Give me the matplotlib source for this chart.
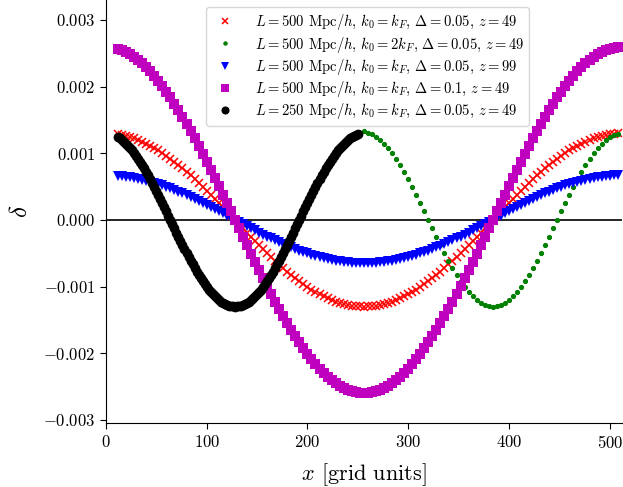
import numpy as np
import matplotlib
matplotlib.use("Agg")
import matplotlib.pyplot as plt
from matplotlib.ticker import FuncFormatter, MultipleLocator

plt.rcParams['font.family'] = 'serif'
plt.rcParams['font.serif'] = ['cmr10', 'DejaVu Serif']
plt.rcParams['mathtext.fontset'] = 'cm'
plt.rcParams['axes.unicode_minus'] = True

# ---------------- data (values in units of 1e-3) ----------------
x_grid = np.arange(12, 509, 4)      # grid positions for the L=500 runs
x_black = np.arange(12, 251, 2)     # grid positions for the L=250 run

red_vals = [1.286, 1.275, 1.261, 1.244, 1.224, 1.201, 1.175, 1.146, 1.115, 1.081, 1.044, 1.005, 0.963, 0.919, 0.873,
            0.825, 0.774, 0.722, 0.668, 0.613, 0.556, 0.497, 0.438, 0.377, 0.316, 0.254, 0.191, 0.127, 0.064,
            0.0,
            -0.064, -0.127, -0.191, -0.254, -0.316, -0.377, -0.438, -0.497, -0.556, -0.613, -0.668, -0.722, -0.774,
            -0.825, -0.873, -0.919, -0.963, -1.005, -1.044, -1.081, -1.115, -1.146, -1.175, -1.201, -1.224, -1.244,
            -1.261, -1.275, -1.286, -1.294, -1.298,
            -1.300,
            -1.298, -1.294, -1.286, -1.275, -1.261, -1.244, -1.224, -1.201, -1.175, -1.146, -1.115, -1.081, -1.044,
            -1.005, -0.963, -0.919, -0.873, -0.825, -0.774, -0.722, -0.668, -0.613, -0.556, -0.497, -0.438, -0.377,
            -0.316, -0.254, -0.191, -0.127, -0.064,
            0.0,
            0.064, 0.127, 0.191, 0.254, 0.316, 0.377, 0.438, 0.497, 0.556, 0.613, 0.668, 0.722, 0.774, 0.825, 0.873,
            0.919, 0.963, 1.005, 1.044, 1.081, 1.115, 1.146, 1.175, 1.201, 1.224, 1.244, 1.261, 1.275, 1.286, 1.294,
            1.298]

green_vals = [1.244, 1.201, 1.146, 1.081, 1.005, 0.919, 0.825, 0.722, 0.613, 0.497, 0.377, 0.254, 0.127,
              0.0,
              -0.127, -0.254, -0.377, -0.497, -0.613, -0.722, -0.825, -0.919, -1.005, -1.081, -1.146, -1.201,
              -1.244, -1.275, -1.294,
              -1.300,
              -1.294, -1.275, -1.244, -1.201, -1.146, -1.081, -1.005, -0.919, -0.825, -0.722, -0.613, -0.497,
              -0.377, -0.254, -0.127,
              0.0,
              0.127, 0.254, 0.377, 0.497, 0.613, 0.722, 0.825, 0.919, 1.005, 1.081, 1.146, 1.201, 1.244, 1.275,
              1.294,
              1.330, 1.310, 1.290,
              1.244, 1.201, 1.146, 1.081, 1.005, 0.919, 0.825, 0.722, 0.613, 0.497, 0.377, 0.254, 0.127,
              0.0,
              -0.127, -0.254, -0.377, -0.497, -0.613, -0.722, -0.825, -0.919, -1.005, -1.081, -1.146, -1.201,
              -1.244, -1.275, -1.294,
              -1.300,
              -1.294, -1.275, -1.244, -1.201, -1.146, -1.081, -1.005, -0.919, -0.825, -0.722, -0.613, -0.497,
              -0.377, -0.254, -0.127,
              0.0,
              0.127, 0.254, 0.377, 0.497, 0.613, 0.722, 0.825, 0.919, 1.005, 1.081, 1.146, 1.201, 1.244, 1.275,
              1.294]

blue_vals = [0.663, 0.658, 0.651, 0.642, 0.631, 0.619, 0.606, 0.591, 0.575, 0.557, 0.538, 0.518, 0.497, 0.474,
             0.450, 0.425, 0.399, 0.372, 0.344, 0.316, 0.287, 0.257, 0.226, 0.195, 0.163, 0.131, 0.098, 0.066, 0.033,
             0.0,
             -0.032, -0.064, -0.095, -0.127, -0.158, -0.189, -0.219, -0.249, -0.278, -0.306, -0.334, -0.361, -0.387,
             -0.412, -0.437, -0.460, -0.482, -0.502, -0.522, -0.540, -0.558, -0.573, -0.588, -0.601, -0.612, -0.622,
             -0.631, -0.638, -0.643, -0.647, -0.649,
             -0.650,
             -0.649, -0.647, -0.643, -0.638, -0.631, -0.622, -0.612, -0.601, -0.588, -0.573, -0.558, -0.540, -0.522,
             -0.502, -0.482, -0.460, -0.437, -0.412, -0.387, -0.361, -0.334, -0.306, -0.278, -0.249, -0.219, -0.189,
             -0.158, -0.127, -0.095, -0.064, -0.032,
             0.0,
             0.033, 0.066, 0.098, 0.131, 0.163, 0.195, 0.226, 0.257, 0.287, 0.316, 0.344, 0.372, 0.399, 0.425, 0.450,
             0.474, 0.497, 0.518, 0.538, 0.557, 0.575, 0.591, 0.606, 0.619, 0.631, 0.642, 0.651, 0.658, 0.663, 0.667,
             0.669]

magenta_vals = [2.572, 2.550, 2.522, 2.488, 2.448, 2.402, 2.350, 2.293, 2.230, 2.162, 2.088, 2.010, 1.926, 1.838,
                1.746, 1.649, 1.549, 1.444, 1.337, 1.226, 1.112, 0.995, 0.876, 0.755, 0.632, 0.507, 0.381, 0.255,
                0.128,
                0.0,
                -0.128, -0.255, -0.381, -0.507, -0.632, -0.755, -0.876, -0.995, -1.112, -1.226, -1.337, -1.444,
                -1.549, -1.649, -1.746, -1.838, -1.926, -2.010, -2.088, -2.162, -2.230, -2.293, -2.350, -2.402,
                -2.448, -2.488, -2.522, -2.550, -2.572, -2.587, -2.597,
                -2.600,
                -2.597, -2.587, -2.572, -2.550, -2.522, -2.488, -2.448, -2.402, -2.350, -2.293, -2.230, -2.162,
                -2.088, -2.010, -1.926, -1.838, -1.746, -1.649, -1.549, -1.444, -1.337, -1.226, -1.112, -0.995,
                -0.876, -0.755, -0.632, -0.507, -0.381, -0.255, -0.128,
                0.0,
                0.128, 0.255, 0.381, 0.507, 0.632, 0.755, 0.876, 0.995, 1.112, 1.226, 1.337, 1.444, 1.549, 1.649,
                1.746, 1.838, 1.926, 2.010, 2.088, 2.162, 2.230, 2.293, 2.350, 2.402, 2.448, 2.488, 2.522, 2.550,
                2.572, 2.587, 2.597]

black_vals = [1.244, 1.224, 1.201, 1.175, 1.146, 1.115, 1.081, 1.044, 1.005, 0.963, 0.919, 0.873, 0.825, 0.774,
              0.722, 0.668, 0.613, 0.556, 0.497, 0.438, 0.377, 0.316, 0.254, 0.191, 0.127, 0.064,
              0.0,
              -0.064, -0.127, -0.191, -0.254, -0.316, -0.377, -0.438, -0.497, -0.556, -0.613, -0.668, -0.722,
              -0.774, -0.825, -0.873, -0.919, -0.963, -1.005, -1.044, -1.081, -1.115, -1.146, -1.175, -1.201,
              -1.224, -1.244, -1.261, -1.275, -1.286, -1.294, -1.298,
              -1.300,
              -1.298, -1.294, -1.286, -1.275, -1.261, -1.244, -1.224, -1.201, -1.175, -1.146, -1.115, -1.081,
              -1.044, -1.005, -0.963, -0.919, -0.873, -0.825, -0.774, -0.722, -0.668, -0.613, -0.556, -0.497,
              -0.438, -0.377, -0.316, -0.254, -0.191, -0.127, -0.064,
              0.0,
              0.064, 0.127, 0.191, 0.254, 0.316, 0.377, 0.438, 0.497, 0.556, 0.613, 0.668, 0.722, 0.774, 0.825,
              0.873, 0.919, 0.963, 1.005, 1.044, 1.081, 1.115, 1.146, 1.175, 1.201, 1.224, 1.244, 1.261, 1.275,
              1.286]

labels = [
    r'$L = 500$ Mpc$/h$, $k_0 = k_F$, $\Delta = 0.05$, $z = 49$',
    r'$L = 500$ Mpc$/h$, $k_0 = 2k_F$, $\Delta = 0.05$, $z = 49$',
    r'$L = 500$ Mpc$/h$, $k_0 = k_F$, $\Delta = 0.05$, $z = 99$',
    r'$L = 500$ Mpc$/h$, $k_0 = k_F$, $\Delta = 0.1$, $z = 49$',
    r'$L = 250$ Mpc$/h$, $k_0 = k_F$, $\Delta = 0.05$, $z = 49$',
]

scale = 1e-3
red = np.array(red_vals) * scale
green = np.array(green_vals) * scale
blue = np.array(blue_vals) * scale
magenta = np.array(magenta_vals) * scale
black = np.array(black_vals) * scale

# ---------------- plot ----------------
fig = plt.figure(figsize=(6.23, 4.87), dpi=100)
ax = fig.add_axes([0.170, 0.131, 0.828, 0.869])

ax.plot(x_grid, red, linestyle='none', marker='x', color='red', markersize=6, markeredgewidth=1.1, label=labels[0])
ax.plot(x_grid, green, linestyle='none', marker='.', color='green', markersize=5.5, label=labels[1])
ax.plot(x_grid, blue, linestyle='none', marker='v', color='blue', markersize=6.5, markeredgewidth=0, label=labels[2])
ax.plot(x_grid, magenta, linestyle='none', marker='s', color='m', markersize=6.5, markeredgewidth=0, label=labels[3])
ax.plot(x_black, black, linestyle='none', marker='o', color='black', markersize=6, label=labels[4])

ax.axhline(0, color='black', linewidth=1.2, zorder=1)

ax.set_xlim(0, 512)
ax.set_ylim(-0.00305, 0.0033)
ax.xaxis.set_major_locator(MultipleLocator(100))
ax.yaxis.set_major_locator(MultipleLocator(0.001))
ax.yaxis.set_major_formatter(FuncFormatter(lambda v, p: r'$%.3f$' % v if abs(v) > 1e-12 else r'$0.000$'))
ax.xaxis.set_major_formatter(FuncFormatter(lambda v, p: r'$%d$' % v))
ax.tick_params(labelsize=12, direction='out', length=4)

ax.spines['top'].set_visible(False)
ax.spines['right'].set_visible(False)

ax.set_xlabel(r'$x$ [grid units]', fontsize=16, labelpad=8)
ax.set_ylabel(r'$\delta$', fontsize=18, labelpad=8)

ax.legend(loc='upper center', bbox_to_anchor=(0.507, 1.0), fontsize=10.5, frameon=True,
          handletextpad=1.0, borderpad=0.35, labelspacing=0.15, handlelength=2.0, markerscale=0.8)

fig.savefig('out.png', dpi=100)
